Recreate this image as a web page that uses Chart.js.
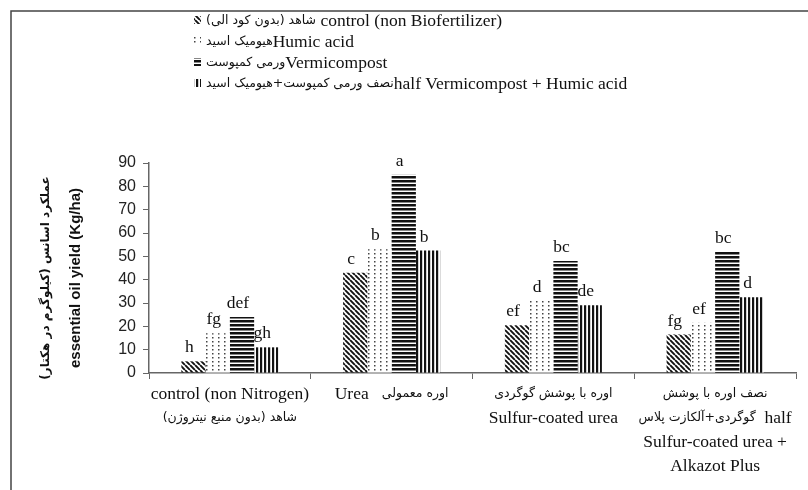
<!DOCTYPE html>
<html>
<head>
<meta charset="utf-8">
<script src="https://cdn.jsdelivr.net/npm/chart.js@4.4.1/dist/chart.umd.min.js"></script>
<style>
  html, body { margin: 0; padding: 0; background: #fff; }
</style>
</head>
<body>
<canvas id="oilChart" width="808" height="490"></canvas>
<script>
// Data
const categoryKeys = ['control', 'urea', 'scu', 'halfScu'];
const categoryLines = [
    [['control (non Nitrogen)'], ['شاهد (بدون منبع نیتروژن)']],
    [['Urea   ', 'اوره معمولی']],
    [['اوره با پوشش گوگردی'], ['Sulfur-coated urea']],
    [['نصف اوره با پوشش'], ['گوگردی+آلکازت پلاس', '  half'], ['Sulfur-coated urea +'], ['Alkazot Plus']]
];
const seriesNames = [
    ['شاهد (بدون کود الی)', ' control (non Biofertilizer)'],
    ['هیومیک اسید', 'Humic acid'],
    ['ورمی کمپوست', 'Vermicompost'],
    ['نصف ورمی کمپوست+هیومیک اسید', 'half Vermicompost + Humic acid']
];
const controlValues = [5, 43, 20.5, 16.5];
const humicValues = [17, 53, 31, 21.5];
const vermicompostValues = [24, 85, 48, 52];
const halfVermiHumicValues = [11, 52.5, 29, 32.5];
const controlLetters = ['h', 'c', 'ef', 'fg'];
const humicLetters = ['fg', 'b', 'd', 'ef'];
const vermicompostLetters = ['def', 'a', 'bc', 'bc'];
const halfVermiHumicLetters = ['gh', 'b', 'de', 'd'];
const yTickValues = [0, 10, 20, 30, 40, 50, 60, 70, 80, 90];
const yTitleLines = ['عملکرد اسانس (کیلوگرم در هکتار)', 'essential oil yield (Kg/ha)'];

const letters = [controlLetters, humicLetters, vermicompostLetters, halfVermiHumicLetters];

const EN_FONT = '17.5px "Liberation Serif"';
const FA_FONT = '12.5px "DejaVu Sans"';
const isPersian = s => /[\u0600-\u06FF]/.test(s);

// Hatch fills like the printed figure
function makePattern(kind) {
    const c = document.createElement('canvas');
    const g = c.getContext('2d');
    if (kind === 'diagonal') {
        c.width = 5; c.height = 5;
        g.strokeStyle = '#111';
        g.lineWidth = 1.9;
        g.beginPath();
        for (let k = -1; k <= 1; k++) {
            g.moveTo(k * 5, 0);
            g.lineTo(k * 5 + 5, 5);
        }
        g.stroke();
    } else if (kind === 'dots') {
        c.width = 6; c.height = 4;
        g.fillStyle = '#fff';
        g.fillRect(0, 0, 6, 4);
        g.fillStyle = '#444';
        g.fillRect(2, 1, 1.5, 1.5);
    } else if (kind === 'horizontal') {
        c.width = 4; c.height = 4;
        g.fillStyle = '#fff';
        g.fillRect(0, 0, 4, 4);
        g.fillStyle = '#111';
        g.fillRect(0, 0, 4, 2.5);
    } else {
        c.width = 4; c.height = 4;
        g.fillStyle = '#fff';
        g.fillRect(0, 0, 4, 4);
        g.fillStyle = '#111';
        g.fillRect(0, 0, 2.2, 4);
    }
    return g.createPattern(c, 'repeat');
}

const patterns = [makePattern('diagonal'), makePattern('dots'), makePattern('horizontal'), makePattern('vertical')];

// draw a line made of english / persian pieces, left edge at x
function runsWidth(ctx, runs) {
    let w = 0;
    runs.forEach(r => {
        ctx.font = isPersian(r) ? FA_FONT : EN_FONT;
        w += ctx.measureText(r).width;
    });
    return w;
}
function drawRuns(ctx, x, y, runs) {
    ctx.textAlign = 'left';
    ctx.textBaseline = 'middle';
    runs.forEach(r => {
        const fa = isPersian(r);
        ctx.font = fa ? FA_FONT : EN_FONT;
        ctx.direction = fa ? 'rtl' : 'ltr';
        ctx.fillText(r, x, y);
        x += ctx.measureText(r).width;
    });
    ctx.direction = 'ltr';
    return x;
}

const textPlugin = {
    id: 'figureText',
    afterDraw(chart) {
        const ctx = chart.ctx;
        const area = chart.chartArea;
        ctx.save();
        ctx.fillStyle = '#111';

        // frame lines of the scanned figure
        ctx.strokeStyle = '#444';
        ctx.lineWidth = 1.5;
        ctx.beginPath();
        ctx.moveTo(11, 490);
        ctx.lineTo(11, 11);
        ctx.lineTo(808, 11);
        ctx.stroke();

        // legend
        const legendY = [21, 42, 63, 84];
        seriesNames.forEach((runs, i) => {
            ctx.fillStyle = patterns[i];
            ctx.fillRect(194, legendY[i] - 5, 7, 8);
            ctx.fillStyle = '#111';
            drawRuns(ctx, 206, legendY[i], runs);
        });

        // y axis title, two rotated lines
        const cy = (area.top + area.bottom) / 2 + 10;
        ctx.save();
        ctx.translate(46, cy);
        ctx.rotate(-Math.PI / 2);
        ctx.textAlign = 'center';
        ctx.textBaseline = 'middle';
        ctx.direction = 'rtl';
        ctx.font = 'bold 12px "DejaVu Sans"';
        ctx.fillText(yTitleLines[0], 0, 0);
        ctx.restore();
        ctx.save();
        ctx.translate(76, cy);
        ctx.rotate(-Math.PI / 2);
        ctx.textAlign = 'center';
        ctx.textBaseline = 'middle';
        ctx.font = 'bold 15px "Liberation Sans"';
        ctx.fillText(yTitleLines[1], 0, 0);
        ctx.restore();

        // category labels under the axis
        const xScale = chart.scales.x;
        const lineY = [394, 418, 442, 466];
        categoryLines.forEach((lines, i) => {
            const cx = xScale.getPixelForValue(i);
            lines.forEach((runs, j) => {
                const w = runsWidth(ctx, runs);
                drawRuns(ctx, cx - w / 2, lineY[j], runs);
            });
        });

        // significance letters above the bars
        ctx.font = EN_FONT;
        ctx.textAlign = 'center';
        ctx.textBaseline = 'alphabetic';
        letters.forEach((row, d) => {
            chart.getDatasetMeta(d).data.forEach((bar, i) => {
                ctx.fillText(row[i], bar.x - 4, bar.y - 9);
            });
        });
        ctx.restore();
    }
};

const datasets = [controlValues, humicValues, vermicompostValues, halfVermiHumicValues].map((vals, i) => ({
    label: seriesNames[i].join(' '),
    data: vals,
    backgroundColor: patterns[i],
    borderWidth: 0,
    categoryPercentage: 0.6,
    barPercentage: 1.0
}));

new Chart(document.getElementById('oilChart'), {
    type: 'bar',
    data: { labels: categoryKeys, datasets: datasets },
    options: {
        responsive: false,
        animation: false,
        devicePixelRatio: 1,
        layout: { padding: { top: 163, left: 0, right: 12, bottom: 0 } },
        plugins: {
            legend: { display: false },
            tooltip: { enabled: false }
        },
        scales: {
            x: {
                ticks: { display: false },
                grid: { display: true, drawOnChartArea: false, offset: true, tickLength: 6, color: '#666' },
                border: { display: true, color: '#666', width: 1.5 },
                afterFit: s => { s.height = 117; }
            },
            y: {
                min: 0,
                max: 90,
                afterBuildTicks: s => { s.ticks = yTickValues.map(v => ({ value: v })); },
                ticks: { color: '#222', padding: 7, font: { family: 'Liberation Sans', size: 16 } },
                grid: { display: true, drawOnChartArea: false, tickLength: 6, color: '#666' },
                border: { display: true, color: '#666', width: 1.5 },
                afterFit: s => { s.width = 149; }
            }
        }
    },
    plugins: [textPlugin]
});
</script>
</body>
</html>
